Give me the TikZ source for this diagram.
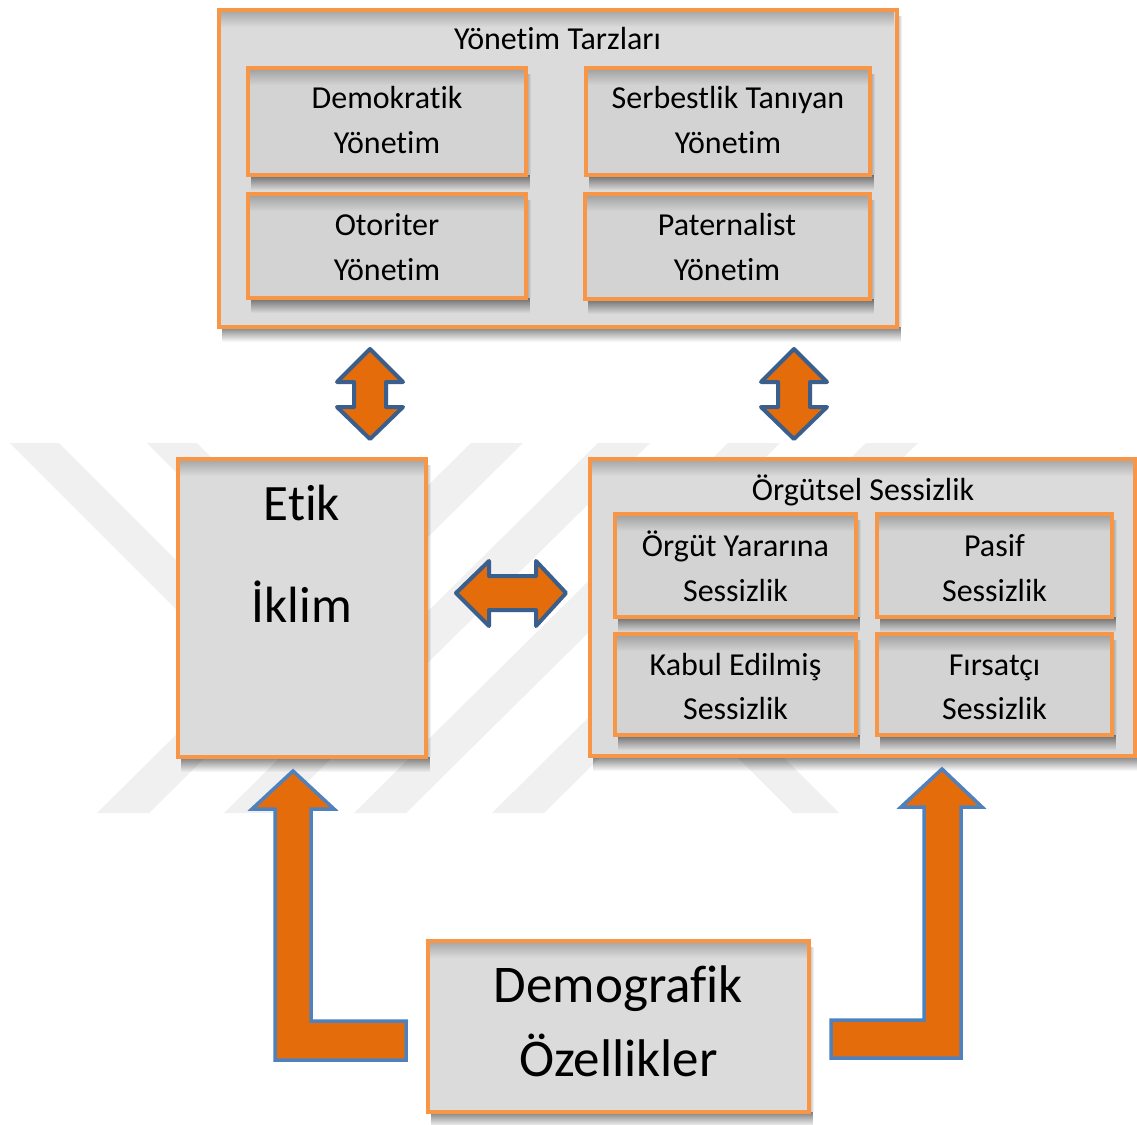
\documentclass[tikz,border=0pt]{standalone}
\usepackage{fontspec}
\setmainfont{Carlito}[Ligatures={NoCommon,NoRare,NoContextual}]
\usetikzlibrary{calc,fadings}
\pgfdeclarelayer{wm}\pgfdeclarelayer{shadA}\pgfdeclarelayer{boxA}\pgfdeclarelayer{shadB}\pgfdeclarelayer{boxB}
\pgfsetlayers{wm,shadA,boxA,shadB,boxB,main}
\definecolor{orng}{HTML}{F79646}
\definecolor{afill}{HTML}{E46C0A}
\definecolor{dblue}{HTML}{3B5F8C}
\definecolor{lblue}{HTML}{4F81BD}
\definecolor{boxAc}{HTML}{DBDBDB}
\definecolor{boxBc}{HTML}{D3D3D3}
\definecolor{wmc}{HTML}{F0F0F0}
\tikzfading[name=fdown, top color=transparent!0, bottom color=transparent!100]
\tikzfading[name=fright, left color=transparent!0, right color=transparent!100]
\newcommand\fs{\fontsize{32}{38}\selectfont}
\newcommand\fe{\fontsize{51}{60}\selectfont}
\newcommand\fd{\fontsize{53}{62}\selectfont}
\tikzset{
  gbox/.style={rectangle, draw=orng, line width=4pt, inner sep=0pt, outer sep=0pt},
  dbl/.style={fill=afill, draw=dblue, line width=4pt, line join=round},
  lar/.style={fill=afill, draw=lblue, line width=3.5pt, line join=miter},
  lbl/.style={anchor=base, inner sep=0pt, text=black},
}
\newcommand\gbox[8]{%
  \begin{pgfonlayer}{#7}
  \node[gbox, fill=#6, minimum width={(#4-#2)*1pt}, minimum height={(#5-#3)*1pt}] (#1) at ({(#2+#4)/2},{(#3+#5)/2}) {};
  \fill[black, opacity=.22, path fading=fdown] ($(#1.north west)+(2,2)$) rectangle ($(#1.north east)+(-2,17)$);
  \draw[orng, line width=4pt] (#1.north west) rectangle (#1.south east);
  \end{pgfonlayer}
  \begin{pgfonlayer}{#8}
  \fill[black, opacity=.5, path fading=fdown] ($(#1.south west)+(3,0)$) rectangle ($(#1.south east)+(4,15)$);
  \fill[black, opacity=.3, path fading=fright] ($(#1.north east)+(0,6)$) rectangle ($(#1.south east)+(5,0)$);
  \end{pgfonlayer}
}
\newcommand\stext[5]{\node[lbl] (#1) at (#2,#3) {#4#5};}
\begin{document}
\begin{tikzpicture}[x=1pt, y=-1pt]
\useasboundingbox (0,0) rectangle (1137,1124);
\begin{pgfonlayer}{wm}
\fill[white] (0,0) rectangle (1137,1124);
\fill[wmc] (471,443) -- (523,443) -- (149,813) -- (97,813) -- cycle;
\fill[wmc] (598,443) -- (650,443) -- (276,813) -- (224,813) -- cycle;
\fill[wmc] (728,443) -- (780,443) -- (406,813) -- (354,813) -- cycle;
\fill[wmc] (866,443) -- (918,443) -- (544,813) -- (492,813) -- cycle;
\fill[wmc] (10,443) -- (59,443) -- (276,660) -- (252,685) -- cycle;
\fill[wmc] (147,443) -- (197,443) -- (346,592) -- (321,617) -- cycle;
\fill[wmc] (656,676) -- (679,653) -- (839,813) -- (793,813) -- cycle;
\end{pgfonlayer}

% boxes
\gbox{yt}{219}{10}{897}{327}{boxAc}{boxA}{shadA}
\gbox{dem}{248}{68}{526}{175}{boxBc}{boxB}{shadB}
\gbox{ser}{586}{68}{870}{175}{boxBc}{boxB}{shadB}
\gbox{oto}{248}{194}{526}{298}{boxBc}{boxB}{shadB}
\gbox{pat}{585}{194}{870}{299}{boxBc}{boxB}{shadB}
\gbox{etik}{178}{459}{426}{757}{boxAc}{boxA}{shadA}
\gbox{os}{590}{459}{1135}{756}{boxAc}{boxA}{shadA}
\gbox{oy}{615}{514}{856}{617}{boxBc}{boxB}{shadB}
\gbox{pas}{877}{514}{1112}{617}{boxBc}{boxB}{shadB}
\gbox{kab}{615}{634}{856}{735}{boxBc}{boxB}{shadB}
\gbox{fir}{877}{634}{1112}{735}{boxBc}{boxB}{shadB}
\gbox{demo}{428}{941}{809}{1112}{boxAc}{boxA}{shadA}

% texts
\stext{t0}{557.5}{49}{\fs}{Yönetim Tarzları}
\stext{tAa}{387}{108}{\fs}{Demokratik}
\stext{tAb}{387}{153}{\fs}{Yönetim}
\stext{tBa}{728}{108}{\fs}{Serbestlik Tanıyan}
\stext{tBb}{728}{153}{\fs}{Yönetim}
\stext{tCa}{387}{235}{\fs}{Otoriter}
\stext{tCb}{387}{280}{\fs}{Yönetim}
\stext{tDa}{727}{235}{\fs}{Paternalist}
\stext{tDb}{727}{280}{\fs}{Yönetim}
\stext{eA}{302}{520}{\fe}{Etik}
\stext{eB}{302}{622}{\fe}{İklim}
\stext{oZ}{863}{500}{\fs}{Örgütsel Sessizlik}
\stext{oAa}{735.5}{556}{\fs}{Örgüt Yararına}
\stext{oAb}{735.5}{601}{\fs}{Sessizlik}
\stext{oBa}{994.5}{556}{\fs}{Pasif}
\stext{oBb}{994.5}{601}{\fs}{Sessizlik}
\stext{oCa}{735.5}{675}{\fs}{Kabul Edilmiş}
\stext{oCb}{735.5}{719}{\fs}{Sessizlik}
\stext{oDa}{994.5}{675}{\fs}{Fırsatçı}
\stext{oDb}{994.5}{719}{\fs}{Sessizlik}
\stext{dA}{618.5}{1002}{\fd}{Demografik}
\stext{dB}{618.5}{1076}{\fd}{Özellikler}

% double arrows
\draw[dbl] (370,349) -- (403,382) -- (386,382) -- (386,407) -- (403,407) -- (370,439) -- (337,407) -- (354,407) -- (354,382) -- (337,382) -- cycle;
\draw[dbl] (794,349) -- (827,382) -- (810,382) -- (810,407) -- (827,407) -- (794,439) -- (761,407) -- (778,407) -- (778,382) -- (761,382) -- cycle;
\draw[dbl] (456,593) -- (489,561) -- (489,576) -- (536,576) -- (536,561) -- (566,593) -- (536,626) -- (536,610) -- (489,610) -- (489,626) -- cycle;

% L arrows
\draw[lar] (293,771) -- (334,809) -- (311,809) -- (311,1021) -- (406,1021) -- (406,1060) -- (275,1060) -- (275,809) -- (252,809) -- cycle;
\draw[lar] (942,769) -- (982,807) -- (961,807) -- (961,1058) -- (831,1058) -- (831,1020) -- (924,1020) -- (924,807) -- (901,807) -- cycle;
\end{tikzpicture}
\end{document}
